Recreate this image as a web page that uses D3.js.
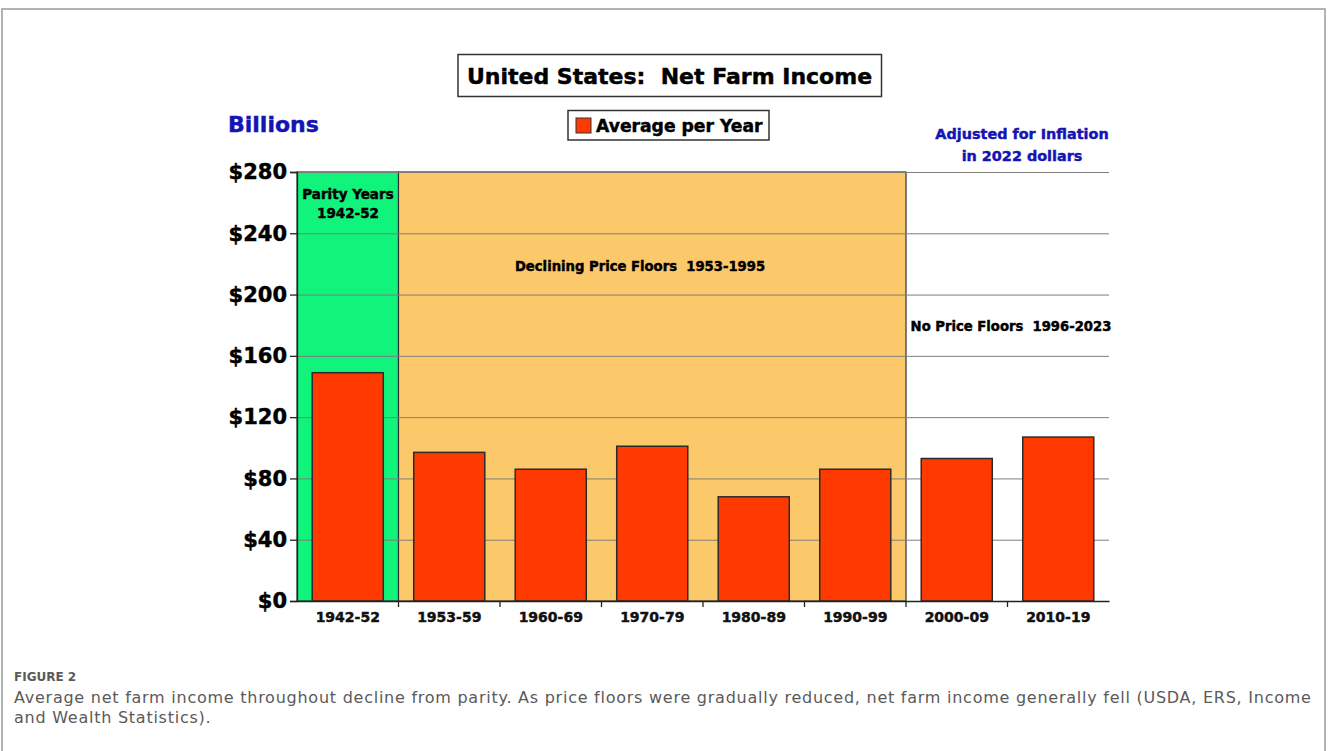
<!DOCTYPE html>
<html>
<head>
<meta charset="utf-8">
<script src="https://cdn.jsdelivr.net/npm/d3@7"></script>
<style>
  body { margin: 0; background: #fff; }
  svg { display: block; }
  .chart text { font-family: "DejaVu Sans", Verdana, sans-serif; font-weight: bold; stroke-width: 0.45px; }
  .caption { font-family: "DejaVu Sans", sans-serif; fill: #5a5a5a; }
</style>
</head>
<body>
<div id="chart"></div>
<script>
// data
const periods = ["1942-52", "1953-59", "1960-69", "1970-79", "1980-89", "1990-99", "2000-09", "2010-19"];
const netIncome = [149, 97, 86, 101, 68, 86, 93, 107];   // billions, 2022 dollars
const yTicks = [0, 40, 80, 120, 160, 200, 240, 280];
const regions = [
    {from: "1942-52", to: "1942-52", fill: "#10f47c", lines: ["Parity Years", "1942-52"]},
    {from: "1953-59", to: "1990-99", fill: "#fcc96a", lines: ["Declining Price Floors  1953-1995"]},
    {from: "2000-09", to: "2010-19", fill: "none", lines: ["No Price Floors  1996-2023"]}
];
const captionLines = [
    "Average net farm income throughout decline from parity. As price floors were gradually reduced, net farm income generally fell (USDA, ERS, Income",
    "and Wealth Statistics)."
];

const W = 1328, H = 751;
const margin = {top: 172, left: 297, right: 1328 - 1109, bottom: 751 - 601};
const width = W - margin.left - margin.right;
const height = H - margin.top - margin.bottom;

const svg = d3.select("#chart").append("svg")
    .attr("width", W)
    .attr("height", H);

// outer figure frame
svg.append("path")
    .attr("d", `M2,${H} V9 H1325 V${H}`)
    .attr("fill", "none")
    .attr("stroke", "#9a9a9a")
    .attr("stroke-width", 1.5);

const chart = svg.append("g").attr("class", "chart");
const g = chart.append("g")
    .attr("transform", "translate(" + margin.left + "," + margin.top + ")");

const x = d3.scaleBand()
    .domain(periods)
    .range([0, width])
    .paddingInner(0.3)
    .paddingOuter(0.15);
const y = d3.scaleLinear()
    .domain([0, 280])
    .range([height, 0]);

// edges of a category slot
const slotLeft = p => x(p) - x.step() * 0.15;
const slotRight = p => x(p) + x.bandwidth() + x.step() * 0.15;

// shaded policy periods
g.selectAll(".region")
    .data(regions.filter(r => r.fill !== "none"))
    .enter().append("rect")
    .attr("class", "region")
    .attr("x", d => slotLeft(d.from))
    .attr("y", y(280))
    .attr("width", d => slotRight(d.to) - slotLeft(d.from))
    .attr("height", y(0) - y(280))
    .attr("fill", d => d.fill)
    .attr("stroke", "#333")
    .attr("stroke-width", 1.2);

// grid
g.append("g")
    .attr("class", "grid")
    .call(d3.axisLeft(y).tickValues(yTicks).tickSize(-width).tickFormat(""))
    .call(a => a.select(".domain").remove())
    .selectAll("line")
    .attr("stroke", "#7d7d7d")
    .attr("stroke-width", 1);

// region labels
const regionLabelPos = [
    {x: 348, y: 199, size: 13.5},
    {x: 640, y: 271, size: 13.2},
    {x: 1011, y: 331, size: 13.2}
];
regions.forEach(function(r, i) {
    r.lines.forEach(function(line, j) {
        g.append("text")
            .attr("x", regionLabelPos[i].x - margin.left)
            .attr("y", regionLabelPos[i].y - margin.top + j * 19)
            .attr("text-anchor", "middle")
            .style("font-size", regionLabelPos[i].size + "px")
            .style("white-space", "pre")
            .attr("fill", "#000")
            .attr("stroke", "#000")
            .text(line);
    });
});

// bars
g.selectAll(".bar")
    .data(periods.map((p, i) => ({period: p, value: netIncome[i]})))
    .enter().append("rect")
    .attr("class", "bar")
    .attr("x", d => x(d.period))
    .attr("y", d => y(d.value))
    .attr("width", x.bandwidth())
    .attr("height", d => y(0) - y(d.value))
    .attr("fill", "#ff3a00")
    .attr("stroke", "#2a2a2a")
    .attr("stroke-width", 1.5);

// y axis
const yAxis = g.append("g")
    .call(d3.axisLeft(y).tickValues(yTicks).tickSize(7).tickPadding(3).tickFormat(d => "$" + d));
yAxis.select(".domain").attr("stroke", "#222").attr("stroke-width", 1.3);
yAxis.selectAll(".tick line").attr("stroke", "#222").attr("stroke-width", 1.3);
yAxis.selectAll(".tick text")
    .style("font-family", "'DejaVu Sans', sans-serif")
    .style("font-weight", "bold")
    .style("font-size", "21px")
    .attr("fill", "#000")
    .attr("stroke", "#000")
    .attr("stroke-width", 0.6);

// x axis: labels under bars, ticks on slot boundaries
const xAxis = g.append("g")
    .attr("transform", "translate(0," + height + ")")
    .call(d3.axisBottom(x).tickSize(0).tickPadding(11));
xAxis.select(".domain").attr("stroke", "#222").attr("stroke-width", 1.3);
xAxis.selectAll(".tick text")
    .style("font-family", "'DejaVu Sans', sans-serif")
    .style("font-weight", "bold")
    .style("font-size", "14px")
    .attr("fill", "#111")
    .attr("stroke", "#111")
    .attr("stroke-width", 0.45);
xAxis.selectAll(".boundary")
    .data(periods.slice(1))
    .enter().append("line")
    .attr("class", "boundary")
    .attr("x1", d => slotLeft(d))
    .attr("x2", d => slotLeft(d))
    .attr("y1", 0)
    .attr("y2", 6)
    .attr("stroke", "#222")
    .attr("stroke-width", 1.3);

// title box
chart.append("rect")
    .attr("x", 458).attr("y", 54.5)
    .attr("width", 423.5).attr("height", 42)
    .attr("fill", "#fff").attr("stroke", "#333").attr("stroke-width", 1.5);
chart.append("text")
    .attr("x", 669.5).attr("y", 84)
    .attr("text-anchor", "middle")
    .style("font-size", "22px")
    .style("white-space", "pre")
    .attr("stroke", "#000").attr("stroke-width", 0.7)
    .text("United States:  Net Farm Income");

// legend box
chart.append("rect")
    .attr("x", 568).attr("y", 110.5)
    .attr("width", 201).attr("height", 29.5)
    .attr("fill", "#fff").attr("stroke", "#333").attr("stroke-width", 1.5);
chart.append("rect")
    .attr("x", 576).attr("y", 118)
    .attr("width", 15).attr("height", 15)
    .attr("fill", "#ff3a00").attr("stroke", "#333").attr("stroke-width", 1);
chart.append("text")
    .attr("x", 596).attr("y", 132)
    .style("font-size", "17.2px")
    .attr("stroke", "#000").attr("stroke-width", 0.6)
    .text("Average per Year");

// unit and inflation notes
chart.append("text")
    .attr("x", 228).attr("y", 132)
    .style("font-size", "22px")
    .attr("fill", "#1414b4")
    .attr("stroke", "#1414b4").attr("stroke-width", 0.6)
    .text("Billions");
chart.append("text")
    .attr("x", 1022).attr("y", 139)
    .attr("text-anchor", "middle")
    .style("font-size", "14.4px")
    .attr("fill", "#1414b4")
    .attr("stroke", "#1414b4")
    .text("Adjusted for Inflation");
chart.append("text")
    .attr("x", 1022).attr("y", 161)
    .attr("text-anchor", "middle")
    .style("font-size", "14.4px")
    .attr("fill", "#1414b4")
    .attr("stroke", "#1414b4")
    .text("in 2022 dollars");

// caption
svg.append("text")
    .attr("class", "caption")
    .attr("x", 14).attr("y", 681)
    .style("font-size", "12px")
    .style("font-weight", "bold")
    .attr("fill", "#666")
    .text("FIGURE 2");
captionLines.forEach(function(line, i) {
    svg.append("text")
        .attr("class", "caption")
        .attr("x", 14).attr("y", 703 + i * 20)
        .style("font-size", "16px")
        .style("letter-spacing", "0.75px")
        .text(line);
});
</script>
</body>
</html>
